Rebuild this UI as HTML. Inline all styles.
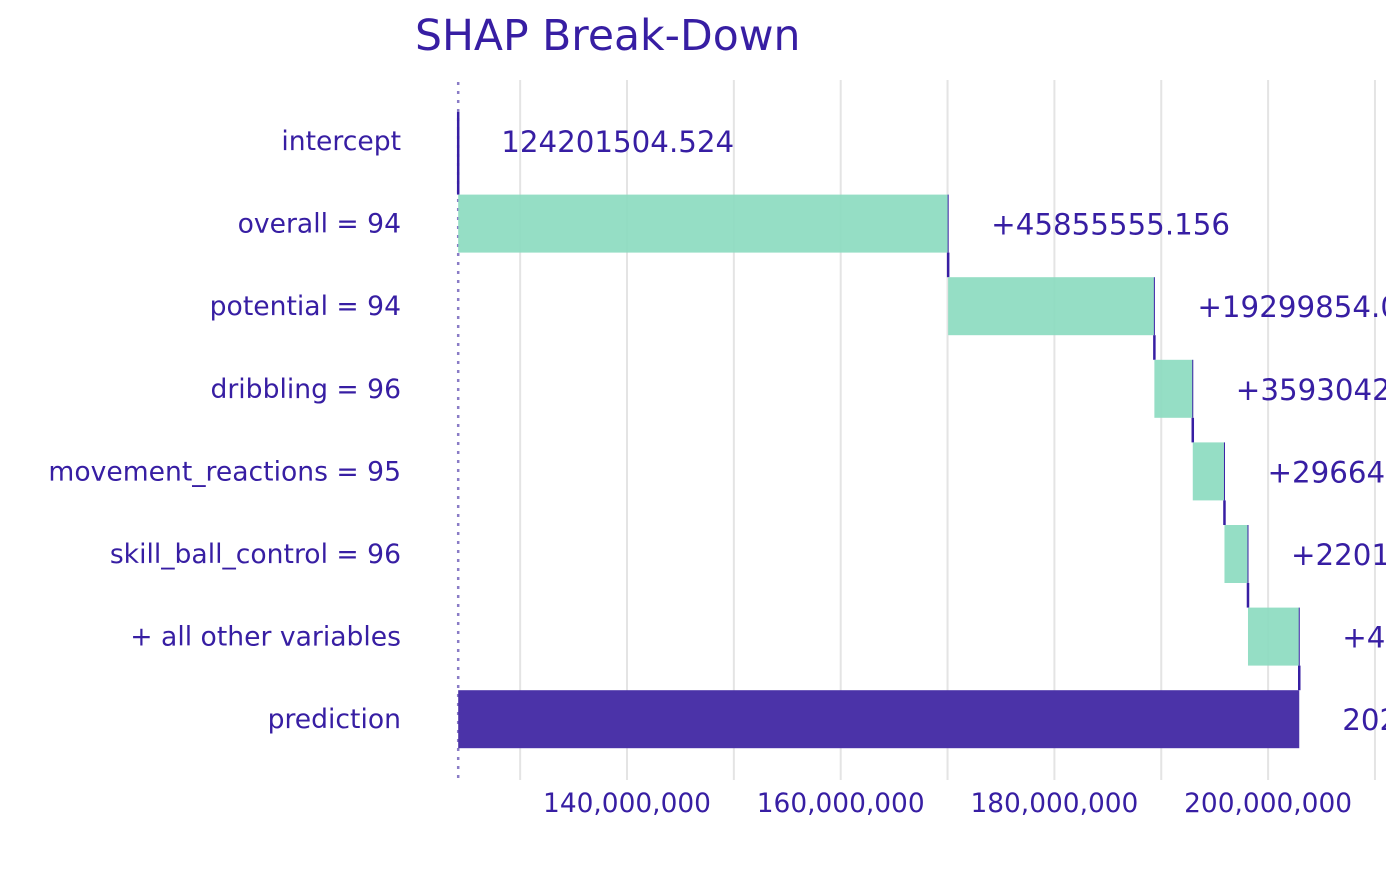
<!DOCTYPE html>
<html><head><meta charset="utf-8"><style>
body{margin:0;background:#fff;}
svg text{font-family:"DejaVu Sans","Liberation Sans",sans-serif;fill:#371ea3;}
</style></head><body>
<svg id="chart" width="1400" height="866" viewBox="0 0 1400 866" xmlns="http://www.w3.org/2000/svg">
<defs><clipPath id="plotclip"><rect x="0" y="0" width="1386" height="866"/></clipPath></defs>
<text x="415" y="50" font-size="42.5">SHAP Break-Down</text>
<g id="grid"></g>
<g id="bars" clip-path="url(#plotclip)"></g>
<g id="ylabels"></g>
<g id="xticks"></g>
</svg>
<script>
const categories=["intercept","overall = 94","potential = 94","dribbling = 96","movement_reactions = 95","skill_ball_control = 96","+ all other variables","prediction"];
const contributions=[124201504.524,45855555.156,19299854.012,3593042.318,2966421.507,2201312.274,4797621.433];
const valueLabels=["124201504.524","+45855555.156","+19299854.012","+3593042.318","+2966421.507","+2201312.274","+4797621.433","202915311.224"];
const tickValues=[130000000,140000000,150000000,160000000,170000000,180000000,190000000,200000000,210000000];
const tickLabels=["","140,000,000","","160,000,000","","180,000,000","","200,000,000",""];
const NS="http://www.w3.org/2000/svg";
const x=v=>627+(v-140000000)*(213.7/20000000);
const y=i=>141+i*82.6;
function mk(tag,attrs,parent){const e=document.createElementNS(NS,tag);for(const k in attrs)e.setAttribute(k,attrs[k]);parent.appendChild(e);return e;}
const grid=document.getElementById('grid'),bars=document.getElementById('bars'),yl=document.getElementById('ylabels'),xt=document.getElementById('xticks');
tickValues.forEach((t,i)=>{
 const l=mk('line',{x1:x(t),x2:x(t),y1:80,y2:780,stroke:'#e4e4e4','stroke-width':2},grid);
 
 
 if(tickLabels[i]){const tx=mk('text',{x:x(t),y:812,'font-size':26.4,'text-anchor':'middle'},xt);tx.textContent=tickLabels[i];
 
 }
});
const base=contributions[0];
const dl=mk('line',{x1:x(base),x2:x(base),y1:82,y2:780,stroke:'#8a7cc6','stroke-width':2.5,'stroke-dasharray':'3,6'},grid);


let cum=base;
const h=58;
categories.forEach((c,i)=>{
 const lab=mk('text',{x:401,y:y(i)+9,'font-size':26.6,'text-anchor':'end'},yl);lab.textContent=c;
 
 
 let end;
 if(i===0){
  const l=mk('line',{x1:x(base),x2:x(base),y1:y(0)-29,y2:y(0)+29,stroke:'#371ea3','stroke-width':2.5},bars);
  
  
  end=x(base);
 } else if(i<categories.length-1){
  const s=cum; cum+=contributions[i];
  const r=mk('rect',{x:x(s),y:y(i)-h/2,width:x(cum)-x(s),height:h,fill:'#8ddcc1','fill-opacity':0.93},bars);
  
  
  mk('line',{x1:x(cum),x2:x(cum),y1:y(i)-h/2,y2:y(i)+h/2,stroke:'#371ea3','stroke-width':1},bars);
  end=x(cum);
 } else {
  const r=mk('rect',{x:x(base),y:y(i)-h/2,width:x(cum)-x(base),height:h,fill:'#4b33a8'},bars);
  
  
  end=x(cum);
 }
 if(i<categories.length-1){
  const nx=i===0?x(base):x(cum);
  const cl=mk('line',{x1:nx,x2:nx,y1:y(i)+(i===0?29:h/2),y2:y(i+1)-h/2,stroke:'#371ea3','stroke-width':2.5},bars);
  
  
 }
 const vt=mk('text',{x:end+43,y:y(i)+11,'font-size':29.3},bars);vt.textContent=valueLabels[i];
 
 
});
</script>
</body></html>
